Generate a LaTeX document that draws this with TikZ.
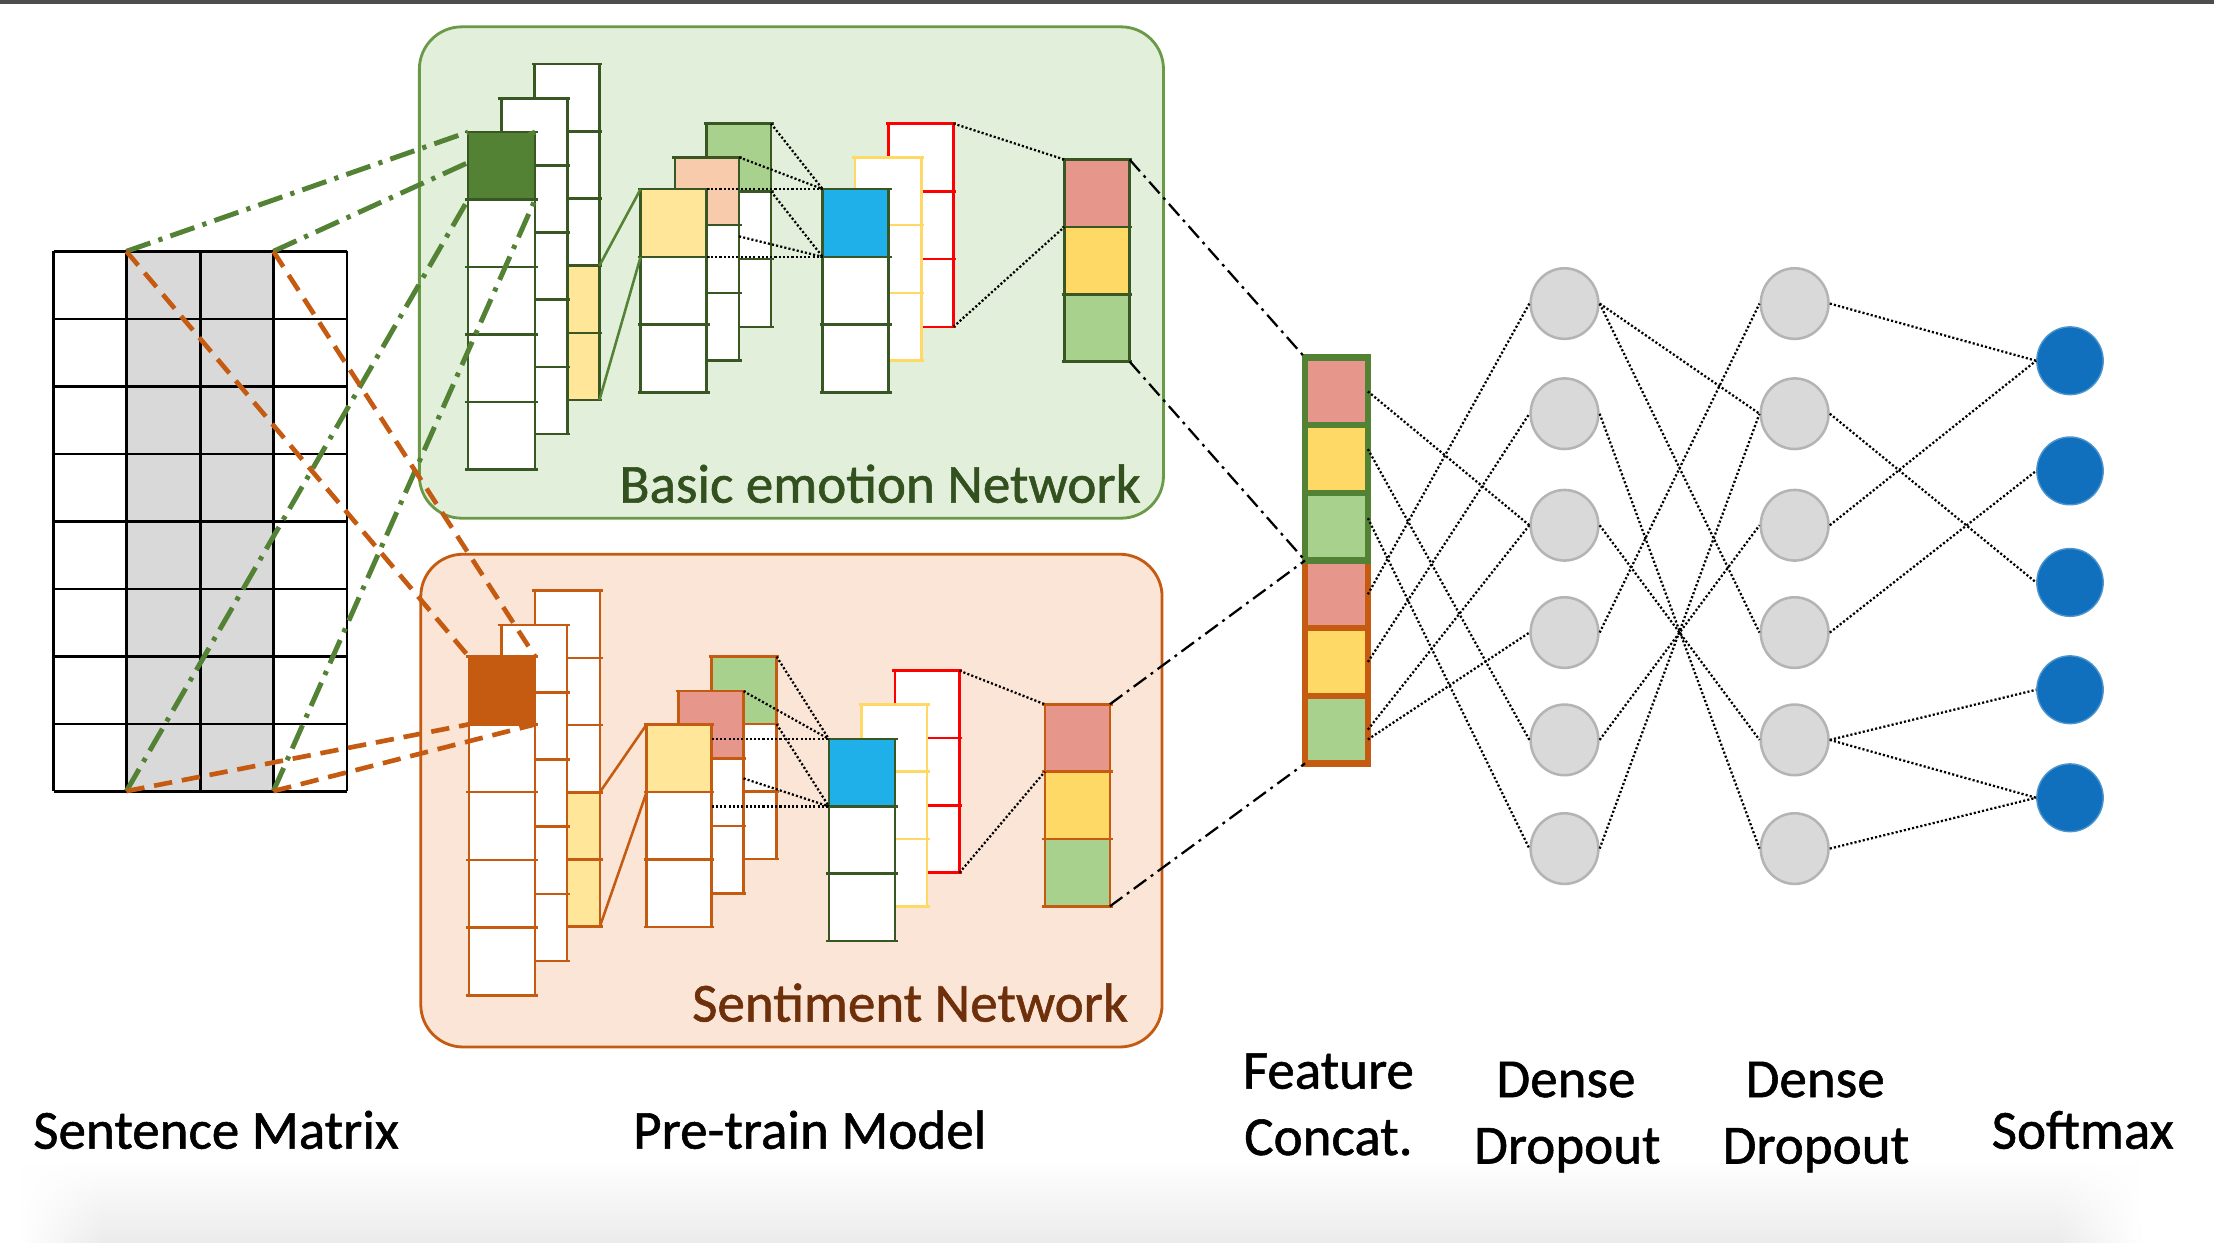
\documentclass[tikz,border=0pt]{standalone}
\usepackage{fontspec}
\setmainfont{Carlito}
\newfontfamily\lblfam[FakeBold=1.0]{Carlito}
\usetikzlibrary{calc,shapes.geometric,fadings}

\definecolor{gboxfill}{HTML}{E2EFDA}
\definecolor{gboxline}{HTML}{6A9A48}
\definecolor{oboxfill}{HTML}{FBE5D6}
\definecolor{oline}{HTML}{C55A11}
\definecolor{dkg}{HTML}{385723}
\definecolor{midg}{HTML}{548235}
\definecolor{cyel}{HTML}{FFE699}
\definecolor{cpeach}{HTML}{F8CBAD}
\definecolor{cgreen}{HTML}{A9D18E}
\definecolor{csalmon}{HTML}{E6968A}
\definecolor{cgold}{HTML}{FFD966}
\definecolor{cblue}{HTML}{1FB0EA}
\definecolor{cred}{HTML}{FF0000}
\definecolor{nodegray}{HTML}{D9D9D9}
\definecolor{nodeline}{HTML}{B4B4B4}
\definecolor{smax}{HTML}{1170BD}
\definecolor{tgreen}{HTML}{33501F}
\definecolor{tbrown}{HTML}{6E300A}
\definecolor{topgray}{HTML}{4D4D4D}
\definecolor{shadowgray}{HTML}{EBEBEB}

\tikzfading[name=sidefadeL, left color=transparent!0, right color=transparent!100]
\tikzfading[name=sidefadeR, left color=transparent!100, right color=transparent!0]

\newcommand\lblfont{\lblfam\fontsize{39}{46}\selectfont}

\tikzset{
  cellbox/.style={rectangle, inner sep=0pt, outer sep=0pt, line width=1.8pt},
  netbox/.style={rectangle, rounded corners=30pt, line width=2pt, inner sep=0pt, outer sep=0pt, anchor=north west},
  gdashline/.style={draw=midg, line width=3.5pt, dash pattern=on 18pt off 6pt on 3pt off 6pt},
  odashline/.style={draw=oline, line width=3.3pt, dash pattern=on 13pt off 7pt},
  ddline/.style={draw=black, line width=1.6pt, dash pattern=on 11pt off 4pt on 2pt off 4pt},
  dotline/.style={draw=black, line width=1.6pt, dash pattern=on 1.5pt off 1.5pt},
  gsolid/.style={draw=midg, line width=1.8pt},
  osolid/.style={draw=oline, line width=1.8pt},
  mline/.style={draw=black, line width=1.8pt},
  ccell/.style={rectangle, inner sep=0pt, outer sep=0pt, line width=4.5pt, minimum width=44.5pt, minimum height=47.9pt},
  neuron/.style={ellipse, draw=nodeline, fill=nodegray, line width=1.8pt, minimum width=48pt, minimum height=50pt, inner sep=0pt},
  smnode/.style={ellipse, draw=smax!75!white, fill=smax, line width=1pt, minimum width=47pt, minimum height=48pt, inner sep=0pt},
  lbl/.style={font=\lblfont, text=black, inner sep=0pt},
}

% #1 name, #2 x-left, #3 y-top, #4 width, #5 cell height, #6 border colour, #7 fill list
\newcommand\mkcol[7]{%
  \foreach \f [count=\i] in {#7}{%
    \node[cellbox, draw=#6, fill=\f, minimum width=#4pt, minimum height=#5pt, anchor=north west] (#1-\i) at (#2,{#3+(\i-1)*#5}) {};
  }%
  \foreach \f [count=\i] in {#7}{%
    \draw[#6, line width=1.8pt] ([xshift=-2pt]#1-\i.north west) -- ([xshift=2pt]#1-\i.north east);
    \draw[#6, line width=1.8pt] ([xshift=-2pt]#1-\i.south west) -- ([xshift=2pt]#1-\i.south east);
  }%
}

\begin{document}
\begin{tikzpicture}[x=1pt,y=-1pt]
\useasboundingbox (0,0) rectangle (1568,880);
\fill[white] (0,0) rectangle (1568,880);
\fill[topgray] (0,0) rectangle (1568,2.5);
% soft bottom shadow
\shade[top color=white, bottom color=shadowgray] (15,822) rectangle (1515,880);
\fill[white, path fading=sidefadeL] (15,822) rectangle (75,880);
\fill[white, path fading=sidefadeR] (1455,822) rectangle (1515,880);

% network boxes
\node[netbox, fill=gboxfill, draw=gboxline, minimum width=527pt, minimum height=348pt] (gnet) at (297,19) {};
\node[netbox, fill=oboxfill, draw=oline, minimum width=525pt, minimum height=349pt] (onet) at (298,392.5) {};

% sentence matrix
\fill[nodegray] (89.5,178) rectangle (193.6,560.3);
\foreach \x in {38,89.5,142,193.6,245.7} \draw[mline] (\x,178) -- (\x,560.3);
\foreach \k in {0,...,8} \draw[mline] (38,{178+\k*47.8}) -- (245.7,{178+\k*47.8});
\coordinate (mtl) at (89.5,178);
\coordinate (mtr) at (193.6,178);
\coordinate (mbl) at (89.5,560.3);
\coordinate (mbr) at (193.6,560.3);

% ---------- basic emotion network ----------
\mkcol{gC}{378.5}{45.4}{46}{47.6}{dkg}{white,white,white,cyel,cyel}
\mkcol{gB}{355}{69.8}{47}{47.5}{dkg}{white,white,white,white,white}
\mkcol{gA}{331.5}{93.5}{47.5}{47.8}{dkg}{midg,white,white,white,white}
\mkcol{gK}{500.5}{87.5}{45.5}{48}{dkg}{cgreen,white,white}
\mkcol{gM}{478}{111.4}{45.4}{48}{dkg}{cpeach,white,white}
\mkcol{gF}{453.7}{133.9}{46.8}{48}{dkg}{cyel,white,white}
\mkcol{gR}{629.4}{87.5}{45.8}{48}{cred}{white,white,white}
\mkcol{gY}{605.5}{111.4}{47.2}{48}{cgold}{white,white,white}
\mkcol{gBl}{582.6}{133.9}{46.8}{48}{dkg}{cblue,white,white}
\mkcol{gO}{753.8}{113}{46.2}{47.7}{dkg}{csalmon,cgold,cgreen}

\draw[gsolid] (gC-4.north east) -- (gF-1.north west);
\draw[gsolid] (gC-5.south east) -- (gF-1.south west);
\draw[dotline] (gK-1.north east) -- (gBl-1.north west);
\draw[dotline] (gK-1.south east) -- (gBl-1.south west);
\draw[dotline] (gM-1.north east) -- (gBl-1.north west);
\draw[dotline] ($(gM-1.south east)+(0,8)$) -- (gBl-1.south west);
\draw[dotline] (gF-1.north east) -- (gBl-1.north west);
\draw[dotline] (gF-1.south east) -- (gBl-1.south west);
\draw[dotline] (gR-1.north east) -- (gO-1.north west);
\draw[dotline] (gR-3.south east) -- (gO-1.south west);

% ---------- sentiment network ----------
\mkcol{oC}{378.8}{418.3}{46}{47.6}{oline}{white,white,white,cyel,cyel}
\mkcol{oB}{355}{442.7}{46.6}{47.6}{oline}{white,white,white,white,white}
\mkcol{oA}{332}{465}{47}{48}{oline}{oline,white,white,white,white}
\mkcol{oK}{504}{465}{46}{47.8}{oline}{cgreen,white,white}
\mkcol{oM}{480.6}{489.5}{46}{47.8}{oline}{csalmon,white,white}
\mkcol{oF}{458}{513}{46}{47.8}{oline}{cyel,white,white}
\mkcol{oR}{634}{475}{45.5}{47.7}{cred}{white,white,white}
\mkcol{oY}{610}{498.8}{46.5}{47.7}{cgold}{white,white,white}
\mkcol{oBl}{587}{523.4}{47}{47.7}{dkg}{cblue,white,white}
\mkcol{oO}{740}{498.8}{46}{47.7}{oline}{csalmon,cgold,cgreen}

\draw[osolid] (oC-4.north east) -- (oF-1.north west);
\draw[osolid] (oC-5.south east) -- (oF-1.south west);
\draw[dotline] (oK-1.north east) -- (oBl-1.north west);
\draw[dotline] (oK-1.south east) -- (oBl-1.south west);
\draw[dotline] (oM-1.north east) -- (oBl-1.north west);
\draw[dotline] ($(oM-1.south east)+(0,14)$) -- (oBl-1.south west);
\draw[dotline] (oF-1.east |- oBl-1.north west) -- (oBl-1.north west);
\draw[dotline] (oF-1.east |- oBl-1.south west) -- (oBl-1.south west);
\draw[dotline] (oR-1.north east) -- (oO-1.north west);
\draw[dotline] (oR-3.south east) -- (oO-1.south west);

% sentence matrix to first layers
\draw[gdashline] (mtl) -- (gA-1.north west);
\draw[gdashline] (mtr) -- (gA-1.north east);
\draw[gdashline] (mbl) -- (gA-1.south west);
\draw[gdashline] (mbr) -- (gA-1.south east);
\draw[odashline] (mtl) -- (oA-1.north west);
\draw[odashline] (mtr) -- (oA-1.north east);
\draw[odashline] (mbl) -- (oA-1.south west);
\draw[odashline] (mbr) -- (oA-1.south east);

% network labels
\node[anchor=base east, font=\lblfont, text=tgreen, inner sep=0pt] (glabel) at (808,356) {Basic emotion Network};
\node[anchor=base east, font=\lblfont, text=tbrown, inner sep=0pt] (olabel) at (799,723.5) {Sentiment Network};

% ---------- feature concat ----------
\node[ccell, draw=oline, fill=csalmon] (c4) at (946.5,420.9) {};
\node[ccell, draw=oline, fill=cgold] (c5) at (946.5,468.8) {};
\node[ccell, draw=oline, fill=cgreen] (c6) at (946.5,516.7) {};
\node[ccell, draw=midg, fill=csalmon] (c1) at (946.5,277.2) {};
\node[ccell, draw=midg, fill=cgold] (c2) at (946.5,325.1) {};
\node[ccell, draw=midg, fill=cgreen] (c3) at (946.5,373.0) {};

\draw[ddline] (gO-1.north east) -- (c1.north west);
\draw[ddline] (gO-3.south east) -- (c3.south west);
\draw[ddline] (oO-1.north east) -- (c4.north west);
\draw[ddline] (oO-3.south east) -- (c6.south west);

% ---------- dense layers ----------
\foreach \y [count=\i] in {215,293,372,448,524,601}{
  \node[neuron] (d1-\i) at (1108,\y) {};
  \node[neuron] (d2-\i) at (1271,\y) {};
}
\foreach \y [count=\i] in {255.5,333.5,412.5,488.5,565}{
  \node[smnode] (s-\i) at (1466,\y) {};
}

\draw[dotline] (c1.east) -- (d1-3.west);
\draw[dotline] ([yshift=7pt]c2.east) -- (d1-5.west);
\draw[dotline] ([yshift=6pt]c3.east) -- (d1-6.west);
\draw[dotline] (c4.east) -- (d1-1.west);
\draw[dotline] (c5.east) -- (d1-2.west);
\draw[dotline] (c6.east) -- (d1-3.west);
\draw[dotline] ([yshift=-7pt]c6.east) -- (d1-4.west);

\draw[dotline] (d1-1.east) -- (d2-2.west);
\draw[dotline] (d1-1.east) -- (d2-4.west);
\draw[dotline] (d1-2.east) -- (d2-6.west);
\draw[dotline] (d1-3.east) -- (d2-5.west);
\draw[dotline] (d1-4.east) -- (d2-1.west);
\draw[dotline] (d1-5.east) -- (d2-3.west);
\draw[dotline] (d1-6.east) -- (d2-2.west);

\draw[dotline] (d2-1.east) -- (s-1.west);
\draw[dotline] (d2-2.east) -- (s-3.west);
\draw[dotline] (d2-3.east) -- (s-1.west);
\draw[dotline] (d2-4.east) -- (s-2.west);
\draw[dotline] (d2-5.east) -- (s-4.west);
\draw[dotline] (d2-5.east) -- (s-5.west);
\draw[dotline] (d2-6.east) -- (s-5.west);

% ---------- bottom labels ----------
\node[lbl, anchor=base] (lsm) at (153,813.5) {Sentence Matrix};
\node[lbl, anchor=base] (lpt) at (573.5,813.5) {Pre-train Model};
\node[lbl, anchor=base west] (lfc1) at (880,771) {Feature};
\node[lbl, anchor=base west] (lfc2) at (881,818) {Concat.};
\node[lbl, anchor=base] (ld1a) at (1109,777) {Dense};
\node[lbl, anchor=base] (ld1b) at (1110,824) {Dropout};
\node[lbl, anchor=base] (ld2a) at (1285.5,777) {Dense};
\node[lbl, anchor=base] (ld2b) at (1286,824) {Dropout};
\node[lbl, anchor=base] (lsx) at (1475,813.5) {Softmax};
\end{tikzpicture}
\end{document}
